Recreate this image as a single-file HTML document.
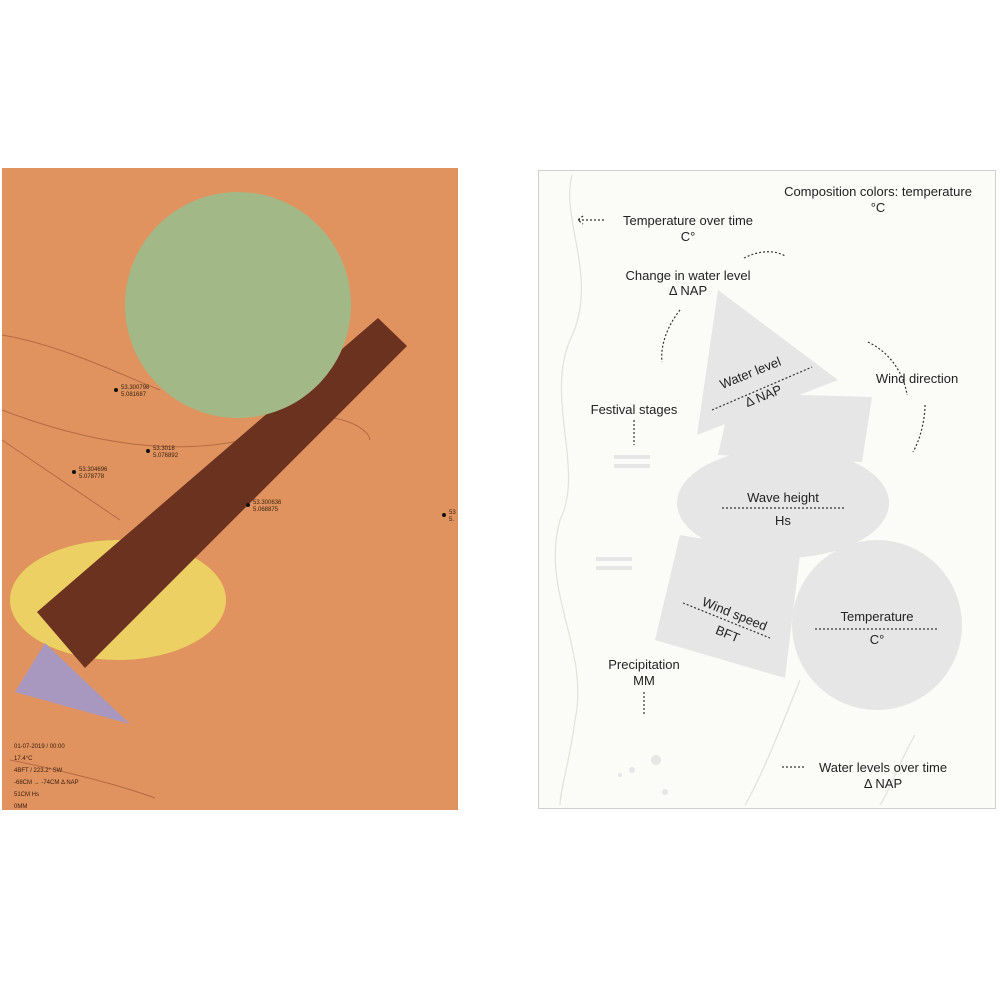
<!DOCTYPE html>
<html><head><meta charset="utf-8"><style>
body{margin:0;background:#fff;}
svg{display:block;font-family:"Liberation Sans",sans-serif;}
</style></head><body>
<svg width="1000" height="1000" viewBox="0 0 1000 1000">
<rect x="0" y="0" width="1000" height="1000" fill="#ffffff"/>
<g>
<rect x="2" y="168" width="456" height="642" fill="#e0935f"/>
<path d="M2,335 C60,345 110,370 160,390 M2,410 C80,440 200,470 300,420 C340,410 370,430 370,440 M2,440 L120,520 M10,760 C60,770 120,785 155,798" stroke="#b66a44" stroke-width="1" fill="none"/>
<ellipse cx="118" cy="600" rx="108" ry="60" fill="#ecd063"/>
<polygon points="378,318 407,346 85,668 37,612" fill="#6b3220"/>
<circle cx="238" cy="305" r="113" fill="#a2b886"/>
<polygon points="45,643 15,692 130,724" fill="#a898c0"/>
<g font-size="6" fill="#3a2410">
<circle cx="116" cy="390" r="2" fill="#111"/><text x="121" y="389">53.300796</text><text x="121" y="396">5.081687</text>
<circle cx="148" cy="451" r="2" fill="#111"/><text x="153" y="450">53.3018</text><text x="153" y="457">5.076892</text>
<circle cx="74" cy="472" r="2" fill="#111"/><text x="79" y="471">53.304696</text><text x="79" y="478">5.078778</text>
<circle cx="248" cy="505" r="2" fill="#111"/><text x="253" y="504">53.300636</text><text x="253" y="511">5.068875</text>
<circle cx="444" cy="515" r="2" fill="#111"/><text x="449" y="514">53</text><text x="449" y="521">5.</text>
</g>
<g font-size="6" fill="#3a1c0c">
<text x="14" y="748">01-07-2019 / 00:00</text><text x="14" y="760">17.4°C</text><text x="14" y="772">4BFT / 223.2° SW</text>
<text x="14" y="784">-68CM → -74CM Δ NAP</text><text x="14" y="796">51CM Hs</text><text x="14" y="808">0MM</text>
</g>
</g>
<g>
<rect x="538.5" y="170.5" width="457" height="638" fill="#fbfbf7" stroke="#cfcfcf"/>
<path d="M572,175 C560,220 600,280 570,340 C545,400 585,470 560,520 C540,590 590,650 575,720 C570,760 560,790 560,805 M800,680 C780,730 760,780 745,805 M915,735 C900,760 890,790 880,805" stroke="#e2e2dc" stroke-width="1.2" fill="none"/>
<g fill="#e6e6e6">
<polygon points="732,393 872,397 862,462 718,455"/>
<polygon points="718,290 838,380 697,435"/>
<ellipse cx="783" cy="503" rx="106" ry="55"/>
<polygon points="680,535 800,555 785,678 655,640"/>
<circle cx="877" cy="625" r="85"/>
<rect x="614" y="455" width="36" height="4"/><rect x="614" y="464" width="36" height="4"/>
<rect x="596" y="557" width="36" height="4"/><rect x="596" y="566" width="36" height="4"/>
<circle cx="632" cy="770" r="3"/><circle cx="656" cy="760" r="5"/><circle cx="665" cy="792" r="3"/><circle cx="620" cy="775" r="2"/>
</g>
<g font-size="13" fill="#222" text-anchor="middle">
<text x="878" y="196">Composition colors: temperature</text><text x="878" y="212">°C</text>
<text x="688" y="225">Temperature over time</text><text x="688" y="241">C°</text>
<text x="688" y="280">Change in water level</text><text x="688" y="295">Δ NAP</text>
<text x="634" y="414">Festival stages</text>
<text x="917" y="383">Wind direction</text>
<text x="752" y="377" transform="rotate(-22 752 377)">Water level</text>
<text x="765" y="400" transform="rotate(-22 765 400)">Δ NAP</text>
<text x="783" y="502">Wave height</text><text x="783" y="525">Hs</text>
<text x="733" y="618" transform="rotate(22 733 618)">Wind speed</text>
<text x="726" y="638" transform="rotate(22 726 638)">BFT</text>
<text x="877" y="621">Temperature</text><text x="877" y="644">C°</text>
<text x="644" y="669">Precipitation</text><text x="644" y="685">MM</text>
<text x="883" y="772">Water levels over time</text><text x="883" y="788">Δ NAP</text>
</g>
<g stroke="#333" stroke-width="1.2" stroke-dasharray="2,2" fill="none">
<path d="M604,220 L578,220 M583,216 L578,220 L583,224"/>
<path d="M744,258 C760,250 775,250 785,256"/>
<path d="M680,310 C668,325 660,345 662,362"/>
<path d="M868,342 C895,355 905,380 907,395"/>
<path d="M925,405 C925,420 920,440 913,452"/>
<path d="M634,420 L634,445"/>
<path d="M712,410 L812,367"/>
<path d="M722,508 L846,508"/>
<path d="M683,603 L770,638"/>
<path d="M815,629 L939,629"/>
<path d="M644,692 L644,715"/>
<path d="M804,767 L780,767"/>
</g>
</g>
</svg>
</body></html>
